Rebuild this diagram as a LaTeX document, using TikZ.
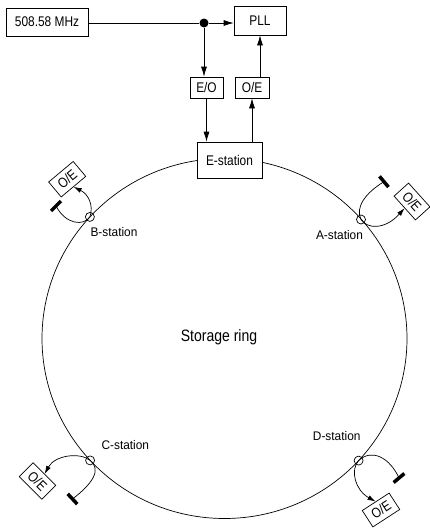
\documentclass[tikz,border=0pt]{standalone}
\usepackage{fontspec}
\setmainfont[FakeStretch=0.85]{Liberation Sans}
\newfontfamily\lblfont[FakeStretch=0.95]{Liberation Sans}
\usetikzlibrary{arrows.meta,calc}
\begin{document}
\begin{tikzpicture}[x=1pt,y=-1pt, line width=0.7pt,
  box/.style={draw, fill=white, inner sep=0pt, font=\fontsize{14}{16}\selectfont},
  oebox/.style={box, minimum width=32pt, minimum height=19.5pt},
  bar/.style={fill=black, inner sep=0pt, minimum width=14pt, minimum height=3.5pt},
  stn/.style={circle, draw, inner sep=0pt, minimum size=9pt},
  lbl/.style={anchor=base, font=\lblfont\fontsize{12.5}{14}\selectfont},
  arr/.style={-{Latex[length=10pt,width=6pt]}},
  farr/.style={-{Latex[length=8pt,width=5pt]}}]
\useasboundingbox (0,0) rectangle (430,530);
% top chain
\node[box, minimum width=82pt, minimum height=28pt] (mhz) at (47,22) {508.58 MHz};
\node[box, minimum width=52pt, minimum height=29pt] (pll) at (260,20.5) {PLL};
\node[box, minimum width=33pt, minimum height=21pt] (eo) at (206.5,87.5) {E/O};
\node[box, minimum width=34pt, minimum height=21pt] (oe) at (252,87.5) {O/E};
\node[circle, fill, inner sep=0pt, minimum size=9pt] (dot) at (204,23) {};
% ring
\coordinate (rc) at (224.5,338.5);
\draw (rc) ellipse [x radius=182.5pt, y radius=180pt];
\node[box, minimum width=65pt, minimum height=36pt] (es) at (229.5,160) {E-station};
\node[anchor=base, font=\fontsize{16.5}{18}\selectfont] (sr) at (219,341.7) {Storage ring};
% top connectors
\draw (mhz.east |- dot) -- (dot);
\draw[arr] (dot) -- (pll.west |- dot);
\draw[arr] (dot) -- (dot |- eo.north);
\draw[arr] (eo.south) -- (eo.south |- es.north);
\draw[arr] (es.north -| oe.south) -- (oe.south);
\draw[arr] (oe.north -| pll.south) -- (pll.south);
% stations
\node[stn] (sB) at (89.9,216.9) {};
\node[stn] (sA) at (361,219.5) {};
\node[stn] (sC) at (90.1,460.4) {};
\node[stn] (sD) at (358.6,460.6) {};
\node[lbl] (lB) at (114,236) {B-station};
\node[lbl] (lA) at (339.5,239.3) {A-station};
\node[lbl] (lC) at (125.3,449.3) {C-station};
\node[lbl] (lD) at (336.7,440.7) {D-station};
% O/E boxes at stations
\node[oebox, rotate=40] (oeB) at (67.2,179.2) {O/E};
\node[oebox, rotate=-48] (oeA) at (412,201.5) {O/E};
\node[oebox, rotate=-45] (oeC) at (37.5,481) {O/E};
\node[oebox, rotate=33] (oeD) at (381,510) {O/E};
% fiber terminators
\node[bar, rotate=45] (barB) at (56,206) {};
\node[bar, rotate=-50] (barA) at (384,181.7) {};
\node[bar, rotate=-47] (barC) at (72.5,499) {};
\node[bar, rotate=40] (barD) at (399,478) {};
% fibers
\draw[farr] (barB.center) .. controls (66,225) and (84,226) .. (sB.center) .. controls (94,205) and (88,194) .. (oeB.south);
\draw[farr] (barA.center) .. controls (365,193) and (355,208) .. (sA.center) .. controls (367,229) and (385,230) .. (oeA.south);
\draw[farr] (barC.center) .. controls (92,484) and (102,470) .. (sC.center) .. controls (80,452) and (55,455) .. (oeC.north);
\draw[farr] (barD.center) .. controls (390,458) and (372,448) .. (sD.center) .. controls (350,470) and (355,490) .. (oeD.north);
\end{tikzpicture}
\end{document}
